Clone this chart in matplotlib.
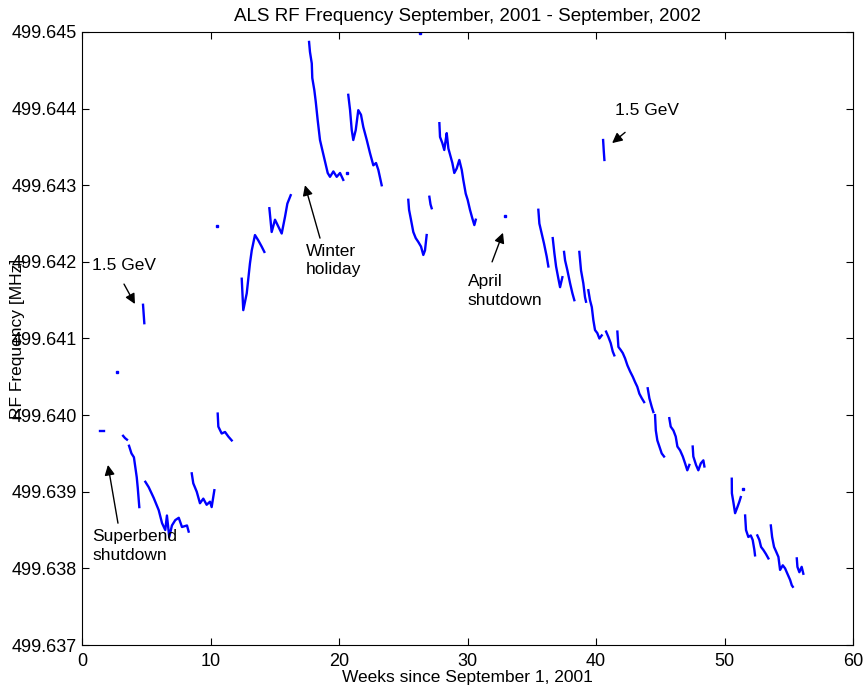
import matplotlib
matplotlib.use("Agg")
import matplotlib.pyplot as plt

plt.rcParams["font.family"] = ["Liberation Sans", "DejaVu Sans"]

# RF frequency runs between fills, weeks since 1 Sep 2001 vs. MHz
runs = [
    ([1.40, 1.55, 1.70], [499.63979, 499.63979, 499.63979]),
    ([3.20, 3.35, 3.50], [499.63973, 499.63970, 499.63968]),
    ([3.66, 3.85, 4.04, 4.26, 4.34, 4.46],
     [499.63960, 499.63950, 499.63945, 499.63919, 499.63905, 499.63880]),
    ([4.75, 4.80, 4.85], [499.64144, 499.64132, 499.64120]),
    ([4.93, 5.19, 5.58, 5.97, 6.23, 6.48, 6.61, 6.79, 7.00, 7.26, 7.53, 7.78, 8.17, 8.30],
     [499.63913, 499.63906, 499.63892, 499.63876, 499.63859, 499.63850, 499.63869,
      499.63841, 499.63856, 499.63863, 499.63866, 499.63854, 499.63856, 499.63848]),
    ([8.54, 8.66, 8.93, 9.18, 9.44, 9.70, 9.96, 10.09, 10.30],
     [499.63924, 499.63911, 499.63900, 499.63885, 499.63891, 499.63883, 499.63887,
      499.63880, 499.63902]),
    ([10.56, 10.61, 10.87, 11.13, 11.39, 11.65],
     [499.64002, 499.63985, 499.63976, 499.63978, 499.63972, 499.63967]),
    ([12.43, 12.55, 12.82, 13.07, 13.21, 13.46, 13.72, 13.98, 14.19],
     [499.64178, 499.64137, 499.64159, 499.64198, 499.64215, 499.64235, 499.64228,
      499.64220, 499.64213]),
    ([14.58, 14.76, 15.02, 15.28, 15.54, 15.80, 15.98, 16.24],
     [499.64270, 499.64239, 499.64255, 499.64246, 499.64237, 499.64259, 499.64276,
      499.64287]),
    ([17.67, 17.74, 17.88, 17.92, 18.08, 18.19, 18.34, 18.52, 18.70, 18.91, 19.12,
      19.30, 19.56, 19.82, 20.08, 20.33],
     [499.64487, 499.64474, 499.64459, 499.64440, 499.64424, 499.64409, 499.64385,
      499.64359, 499.64346, 499.64331, 499.64316, 499.64311, 499.64318, 499.64311,
      499.64316, 499.64307]),
    ([20.72, 20.86, 20.99, 21.11, 21.30, 21.50, 21.71, 21.89, 22.16, 22.41, 22.67,
      22.88, 23.06, 23.32],
     [499.64418, 499.64398, 499.64372, 499.64359, 499.64372, 499.64398, 499.64392,
      499.64376, 499.64359, 499.64342, 499.64326, 499.64329, 499.64320, 499.64300]),
    ([25.39, 25.45, 25.60, 25.78, 25.97, 26.17, 26.38, 26.56, 26.69, 26.82],
     [499.64281, 499.64268, 499.64255, 499.64239, 499.64231, 499.64226, 499.64220,
      499.64209, 499.64215, 499.64235]),
    ([27.03, 27.12, 27.21], [499.64285, 499.64275, 499.64270]),
    ([27.81, 27.86, 28.04, 28.19, 28.30, 28.38, 28.51, 28.69, 28.82, 28.97, 29.16,
      29.36, 29.55, 29.67, 29.86, 30.01, 30.19, 30.37, 30.53, 30.64],
     [499.64381, 499.64363, 499.64355, 499.64346, 499.64359, 499.64368, 499.64348,
      499.64337, 499.64329, 499.64316, 499.64322, 499.64333, 499.64320, 499.64307,
      499.64289, 499.64281, 499.64268, 499.64257, 499.64248, 499.64255]),
    ([35.51, 35.59, 35.77, 35.95, 36.16, 36.29],
     [499.64268, 499.64250, 499.64237, 499.64224, 499.64207, 499.64194]),
    ([36.63, 36.76, 36.89, 37.07, 37.20, 37.38],
     [499.64231, 499.64211, 499.64194, 499.64178, 499.64167, 499.64180]),
    ([37.51, 37.59, 37.77, 37.98, 38.16, 38.31],
     [499.64213, 499.64202, 499.64189, 499.64172, 499.64159, 499.64150]),
    ([38.70, 38.83, 39.01, 39.14, 39.22],
     [499.64213, 499.64189, 499.64172, 499.64154, 499.64148]),
    ([39.40, 39.53, 39.67, 39.79, 39.92, 40.10, 40.26, 40.44],
     [499.64163, 499.64150, 499.64141, 499.64124, 499.64111, 499.64107, 499.64100,
      499.64104]),
    ([40.55, 40.60, 40.65], [499.64359, 499.64345, 499.64333]),
    ([40.78, 40.96, 41.14, 41.30, 41.42],
     [499.64109, 499.64102, 499.64094, 499.64083, 499.64078]),
    ([41.66, 41.74, 41.92, 42.08, 42.26, 42.44, 42.65, 42.86, 43.04, 43.21, 43.37,
      43.56, 43.74],
     [499.64109, 499.64089, 499.64085, 499.64081, 499.64074, 499.64065, 499.64057,
      499.64050, 499.64043, 499.64037, 499.64028, 499.64022, 499.64017]),
    ([44.02, 44.15, 44.33, 44.46],
     [499.64035, 499.64022, 499.64011, 499.64004]),
    ([44.59, 44.65, 44.77, 44.93, 45.11, 45.29],
     [499.64000, 499.63980, 499.63967, 499.63959, 499.63950, 499.63946]),
    ([45.70, 45.81, 46.02, 46.20, 46.33, 46.54, 46.75, 46.93, 47.10, 47.26],
     [499.63996, 499.63985, 499.63980, 499.63972, 499.63959, 499.63954, 499.63946,
      499.63937, 499.63928, 499.63935]),
    ([47.52, 47.57, 47.78, 47.96, 48.15, 48.35, 48.43],
     [499.63959, 499.63946, 499.63935, 499.63928, 499.63937, 499.63941, 499.63933]),
    ([50.56, 50.57, 50.68, 50.82, 51.00, 51.15, 51.26],
     [499.63917, 499.63898, 499.63887, 499.63872, 499.63880, 499.63887, 499.63893]),
    ([51.60, 51.67, 51.85, 52.04, 52.19, 52.32, 52.37],
     [499.63869, 499.63850, 499.63841, 499.63843, 499.63837, 499.63824, 499.63817]),
    ([52.55, 52.71, 52.84, 53.02, 53.21, 53.41],
     [499.63843, 499.63837, 499.63828, 499.63824, 499.63819, 499.63813]),
    ([53.60, 53.70, 53.85, 54.01, 54.19, 54.32, 54.53, 54.71, 54.89, 55.10, 55.23, 55.31],
     [499.63856, 499.63841, 499.63828, 499.63822, 499.63815, 499.63798, 499.63804,
      499.63800, 499.63793, 499.63785, 499.63778, 499.63776]),
    ([55.62, 55.67, 55.82, 56.00, 56.13],
     [499.63813, 499.63802, 499.63795, 499.63802, 499.63793]),
]

# isolated single readings
dot_weeks = [2.75, 10.50, 20.60, 26.30, 32.90, 51.46]
dot_freqs = [499.64056, 499.64247, 499.64316, 499.64499, 499.64260, 499.63904]

# (text, text left/centre, arrow tail, arrow tip)
notes = [
    ("1.5 GeV", (0.75, 499.64195), (3.27, 499.64171), (4.12, 499.64145)),
    ("Winter\nholiday", (17.45, 499.64202), (18.52, 499.64231), (17.35, 499.64300)),
    ("April\nshutdown", (30.0, 499.64162), (31.91, 499.64200), (32.76, 499.64238)),
    ("1.5 GeV", (41.5, 499.64398), (42.26, 499.64369), (41.25, 499.64355)),
    ("Superbend\nshutdown", (0.78, 499.63829), (2.80, 499.63859), (2.02, 499.63935)),
]

fig = plt.figure(figsize=(8.63, 6.88), dpi=100)
ax = fig.add_axes([0.095, 0.0625, 0.8935, 0.891])

for wk, fr in runs:
    ax.plot(wk, fr, color="#0000ff", lw=1.7)
ax.plot(dot_weeks, dot_freqs, ls="none", marker="s", ms=1.5, color="#0000ff")

for text, xy_text, xy_tail, xy_tip in notes:
    ax.text(xy_text[0], xy_text[1], text, fontsize=12.5, ha="left", va="center",
            linespacing=1.3)
    ax.annotate("", xy=xy_tip, xytext=xy_tail,
                arrowprops=dict(arrowstyle="-|>", color="black", lw=1, shrinkA=0, shrinkB=0,
                                mutation_scale=15))

ax.set_xlim(0, 60)
ax.set_ylim(499.637, 499.645)
ax.set_xticks(range(0, 61, 10))
ax.set_yticks([499.637 + 0.001 * k for k in range(9)])
ax.yaxis.set_major_formatter(plt.FormatStrFormatter("%.3f"))
ax.tick_params(direction="in", top=True, right=True, length=5, labelsize=13)
ax.tick_params(axis="x", pad=6)
for sp in ax.spines.values():
    sp.set_linewidth(0.8)

ax.set_title("ALS RF Frequency September, 2001 - September, 2002", fontsize=13.5, pad=8)
ax.set_xlabel("Weeks since September 1, 2001", fontsize=12.5, labelpad=0)
ax.set_ylabel("RF Frequency [MHz]", fontsize=12.5)
ax.yaxis.set_label_coords(-0.074, 0.5)

fig.savefig("out.png", dpi=100)
